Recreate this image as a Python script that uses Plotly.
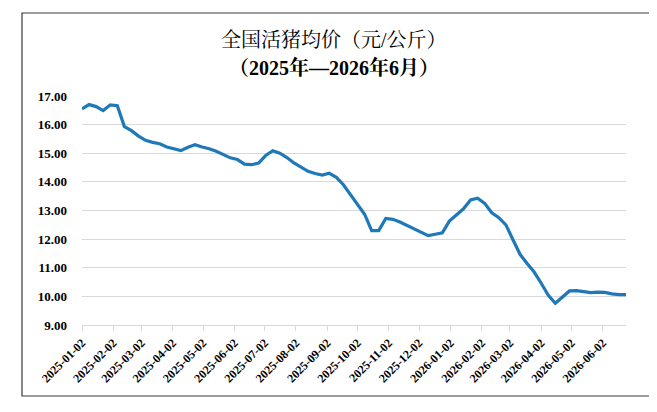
import pandas as pd
import plotly.graph_objects as go

# weekly national live hog price, yuan/kg
start_date = "2025-01-02"
prices = [
    16.55, 16.70, 16.63, 16.49, 16.69, 16.66, 15.93, 15.79, 15.60, 15.45,
    15.38, 15.33, 15.22, 15.16, 15.09, 15.21, 15.30, 15.22, 15.16, 15.07,
    14.95, 14.84, 14.78, 14.62, 14.60, 14.66, 14.92, 15.09, 15.00, 14.85,
    14.66, 14.52, 14.37, 14.29, 14.24, 14.30, 14.16, 13.90, 13.55, 13.18,
    12.87, 12.30, 12.30, 12.72, 12.69, 12.60, 12.48, 12.38, 12.23, 12.12,
    12.17, 12.22, 12.63, 12.83, 13.06, 13.37, 13.43, 13.25, 12.92, 12.75,
    12.50, 11.98, 11.47, 11.15, 10.85, 10.46, 10.04, 9.76, 9.97, 10.19,
    10.20, 10.17, 10.13, 10.15, 10.14, 10.09, 10.06, 10.06,
]
tick_dates = [
    "2025-01-02", "2025-02-02", "2025-03-02", "2025-04-02", "2025-05-02",
    "2025-06-02", "2025-07-02", "2025-08-02", "2025-09-02", "2025-10-02",
    "2025-11-02", "2025-12-02", "2026-01-02", "2026-02-02", "2026-03-02",
    "2026-04-02", "2026-05-02", "2026-06-02",
]
y_ticks = [9, 10, 11, 12, 13, 14, 15, 16, 17]
title_1 = "全国活猪均价（元/公斤）"
title_2 = "（2025年—2026年6月）"

dates = pd.date_range(start_date, periods=len(prices), freq="7D")

# the page body keeps its default 8px margin, so lay out in page pixels
# and shift everything back by that amount
OFF = 8
W, H = 657 - OFF, 412 - OFF
L = 82 - OFF
T = 96 - OFF
R = W - (626 - OFF)
B = H - (325 - OFF)
pw, ph = W - L - R, H - T - B


def px_x(x):
    return (x - OFF - L) / pw


def px_y(y):
    return (H - B - (y - OFF)) / ph


serif = "Liberation Serif, Times New Roman, Noto Serif CJK SC, Noto Sans CJK SC, serif"

fig = go.Figure(go.Scatter(
    x=dates,
    y=prices,
    mode="lines",
    line=dict(color="#1f78b8", width=3.2),
    hoverinfo="x+y",
))

fig.update_layout(
    width=W,
    height=H,
    autosize=False,
    margin=dict(l=L, r=R, t=T, b=B),
    paper_bgcolor="white",
    plot_bgcolor="white",
    showlegend=False,
    font=dict(family=serif, color="#000000"),
    xaxis=dict(
        range=[dates[0], dates[-1]],
        tickvals=tick_dates,
        ticktext=tick_dates,
        tickangle=-45,
        tickfont=dict(family=serif, size=12, color="#000000", weight="bold"),
        showgrid=False,
        showline=True,
        linecolor="#d9d9d9",
        linewidth=1,
        ticks="outside",
        ticklen=5,
        tickcolor="#d9d9d9",
        zeroline=False,
    ),
    yaxis=dict(
        range=[9, 17],
        tickvals=y_ticks,
        ticktext=[f"{v:.2f}" for v in y_ticks],
        tickfont=dict(family=serif, size=13, color="#000000", weight="bold"),
        showgrid=True,
        gridcolor="#d9d9d9",
        gridwidth=1,
        showline=False,
        ticks="",
        ticklabelstandoff=14,
        zeroline=False,
    ),
    shapes=[dict(
        type="rect",
        xref="paper", yref="paper",
        x0=px_x(22), x1=px_x(652), y0=px_y(396), y1=px_y(13),
        line=dict(color="#3a3a3a", width=1.2),
        fillcolor="rgba(0,0,0,0)",
        layer="below",
    )],
    annotations=[
        dict(
            text=title_1, xref="paper", yref="paper",
            x=px_x(334), y=px_y(40), showarrow=False,
            xanchor="center", yanchor="middle",
            font=dict(family=serif, size=20, color="#000000"),
        ),
        dict(
            text=f"<b>{title_2}</b>", xref="paper", yref="paper",
            x=px_x(334), y=px_y(68), showarrow=False,
            xanchor="center", yanchor="middle",
            font=dict(family=serif, size=20, color="#000000"),
        ),
    ],
)

fig.write_html("out.html")
